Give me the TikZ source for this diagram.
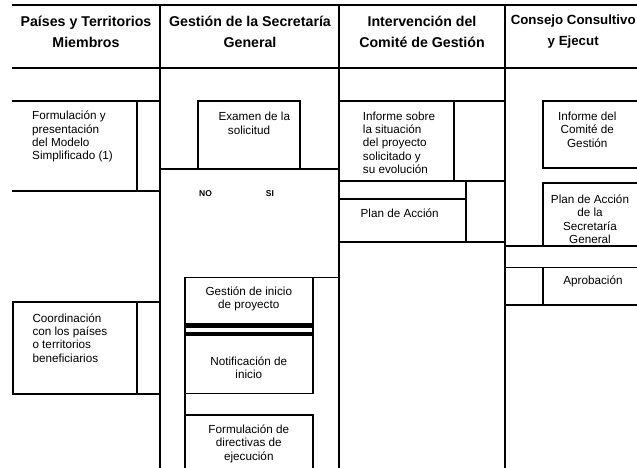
\documentclass[tikz,border=0pt]{standalone}
\usepackage{fontspec}
\setmainfont{Liberation Sans}
\begin{document}
\begin{tikzpicture}[x=1pt,y=-1pt,
  rule/.style={line width=1.9pt, line cap=rect, line join=miter},
  bar/.style={fill=black, draw=none},
  head/.style={inner sep=0pt, align=center, font=\fontsize{14.2}{21}\selectfont\bfseries},
  bodyl/.style={inner sep=0pt, align=left, anchor=west, font=\fontsize{11.7}{13.3}\selectfont},
  bodyc/.style={inner sep=0pt, align=center, font=\fontsize{11.7}{13.3}\selectfont},
  small/.style={inner sep=0pt, font=\fontsize{8.5}{10}\selectfont\bfseries}]
\useasboundingbox (0,0) rectangle (637,468);
\clip (0,0) rectangle (637,468);
% frame
\draw[rule] (13,5.3) -- (637,5.3);
\draw[rule] (13,68) -- (637,68);
\draw[rule] (160,5.3) -- (160,468);
\draw[rule] (339,5.3) -- (339,468);
\draw[rule] (505,5.3) -- (505,468);
% column 1
\draw[rule] (13,100.7) -- (160,100.7);
\draw[rule] (13,190.7) -- (160,190.7);
\draw[rule] (137,100.7) -- (137,190.7);
\draw[rule] (160,302.3) -- (12.7,302.3) -- (12.7,393.7) -- (160,393.7);
\draw[rule] (137,302.3) -- (137,393.7);
% column 2
\draw[rule] (198.3,169) -- (198.3,100.7) -- (300,100.7) -- (300,169);
\draw[rule] (160,169) -- (339,169);
\draw[rule] (185,468) -- (185,277.5) -- (339,277.5);
\draw[rule] (313,277.5) -- (313,393.5) -- (185,393.5);
\fill[bar] (185,323.3) rectangle (313,327.7);
\fill[bar] (185,332) rectangle (313,336);
\draw[rule] (185,415) -- (313,415) -- (313,468);
% column 3
\draw[rule] (339,100.7) -- (505,100.7);
\draw[rule] (454,100.7) -- (454,181);
\draw[rule] (339,181) -- (505,181);
\draw[rule] (339,199) -- (466,199);
\draw[rule] (466,181) -- (466,241.7);
\draw[rule] (339,241.7) -- (505,241.7);
% column 4
\draw[rule] (637,100.7) -- (543.3,100.7) -- (543.3,168.3) -- (637,168.3);
\draw[rule] (637,182.7) -- (543.3,182.7) -- (543.3,246);
\draw[rule] (505,246) -- (637,246);
\draw[rule] (505,267.5) -- (637,267.5);
\draw[rule] (543.3,267.5) -- (543.3,305);
\draw[rule] (505,305) -- (637,305);
% headers
\node[head] (h1) at (86,31.5) {Países y Territorios\\Miembros};
\node[head] (h2) at (250,31.5) {Gestión de la Secretaría\\General};
\node[head] (h3) at (422,31.5) {Intervención del\\Comité de Gestión};
\node[head, font=\fontsize{13.3}{21}\selectfont\bfseries] (h4) at (573.2,31.5) {Consejo Consultivo\\y Ejecut};
% texts
\node[bodyl] (t1) at (32,136.7) {Formulación y\\presentación\\del Modelo\\Simplificado (1)};
\node[bodyl] (t2) at (32.3,337.8) {Coordinación\\con los países\\o territorios\\beneficiarios};
\node[bodyl] (t3) at (218.3,123.3) {Examen de la\\\hspace*{9.4pt}solicitud};
\node[small] (no) at (205.5,194) {NO};
\node[small] (si) at (270,194) {SI};
\node[bodyc] (t4) at (248.8,298.7) {Gestión de inicio\\de proyecto};
\node[bodyc] (t5) at (248.8,367.5) {Notificación de\\inicio};
\node[bodyc] (t6) at (248.8,443.7) {Formulación de\\directivas de\\ejecución};
\node[bodyl] (t7) at (362.7,142.8) {Informe sobre\\la situación\\del proyecto\\solicitado y\\su evolución};
\node[bodyc] (t8) at (399.7,213.3) {Plan de Acción};
\node[bodyc] (t9) at (587.3,129.7) {Informe del\\Comité de\\Gestión};
\node[bodyc] (t10) at (590,219.2) {Plan de Acción\\de la\\Secretaría\\General};
\node[bodyc] (t11) at (593,281.7) {Aprobación};
\end{tikzpicture}
\end{document}
